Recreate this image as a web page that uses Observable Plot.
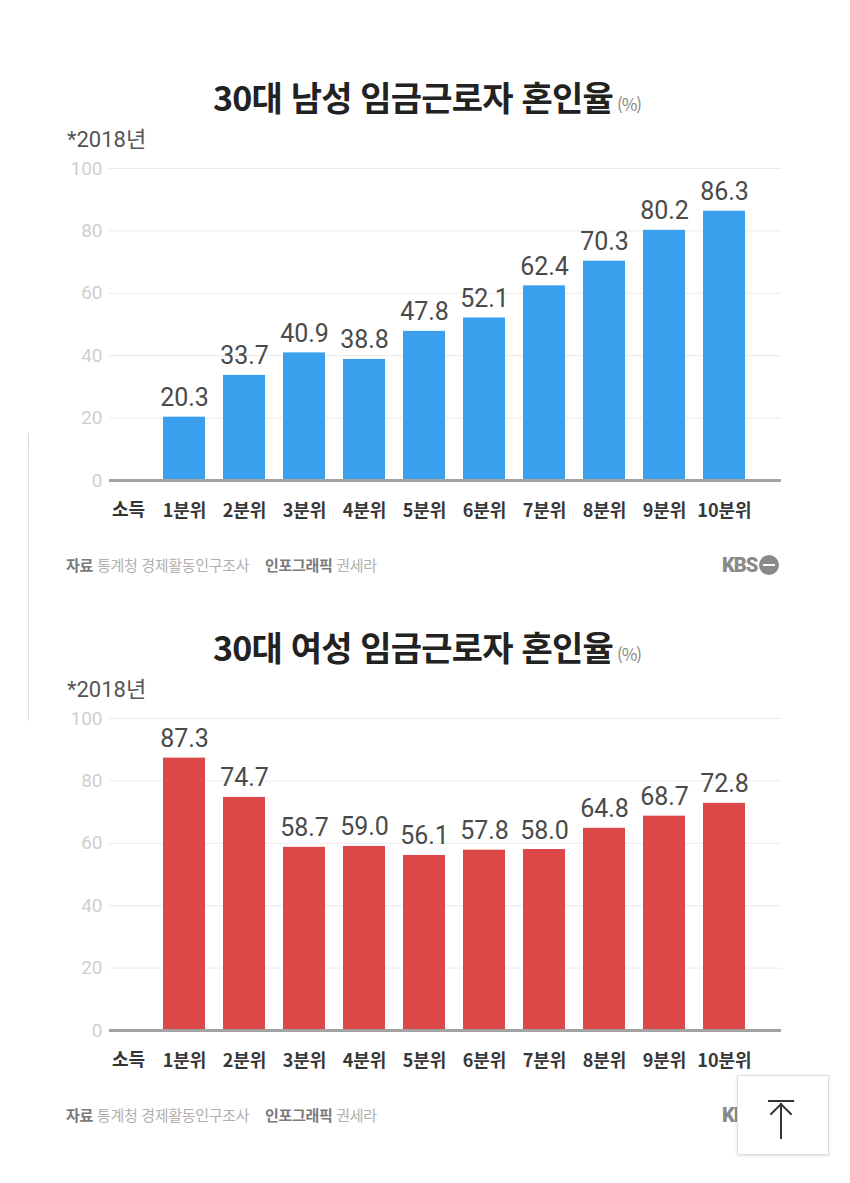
<!DOCTYPE html>
<html lang="ko">
<head>
<meta charset="utf-8">
<script src="https://cdn.jsdelivr.net/npm/d3@7"></script>
<script src="https://cdn.jsdelivr.net/npm/@observablehq/plot@0.6"></script>
<style>
  html, body { margin: 0; padding: 0; background: #fff; }
  body { width: 850px; height: 1183px; position: relative; overflow: hidden; font-family: "Noto Sans CJK KR", "Noto Sans", sans-serif; }
  .abs { position: absolute; }
  .title { left: 0; width: 850px; text-align: center; font-size: 34px; font-weight: 700; color: #222; line-height: 1; letter-spacing: -0.8px; padding-left: 4px; box-sizing: border-box; }
  .title .unit { font-size: 17px; font-weight: 400; color: #888; letter-spacing: -1px; margin-left: 4px; }
  .year { left: 67px; font-size: 22px; color: #555; line-height: 1; font-family: "Roboto", "Noto Sans CJK KR", sans-serif; }
  .year .k { font-family: "Noto Sans CJK KR", sans-serif; }
  .footer { left: 66px; font-size: 15px; color: #b0b0b0; line-height: 1; white-space: pre; letter-spacing: -0.3px; }
  .footer b { color: #7a7a7a; font-weight: 700; }
  .kbs { left: 722px; font-family: "Roboto", sans-serif; font-weight: 900; font-size: 20px; color: #8a8a8a; line-height: 1; letter-spacing: -1px; display: flex; align-items: center; }
  .kbs .dot { display: inline-block; width: 20px; height: 20px; border-radius: 50%; background: #8a8a8a; margin-left: 2px; position: relative; }
  .kbs .dot::after { content: ""; position: absolute; left: 4px; right: 4px; top: 9px; height: 2px; background: #fff; }
  .soduk { font-size: 18px; font-weight: 700; color: #333; line-height: 1; }
  .chart { left: 0; }
  .scroll { left: 28px; top: 433px; width: 1px; height: 288px; background: #e4e4e4; }
  .scroll-top { left: 28px; top: 433px; width: 1px; height: 14px; background: #d8d8d8; }
  .btn { left: 737px; top: 1075px; width: 90px; height: 78px; background: #fff; border: 1px solid #ddd; box-shadow: 0 1px 3px rgba(0,0,0,0.12); }
  .btn .bar { position: absolute; left: 30px; width: 26px; top: 24px; height: 2px; background: #333; }
  .btn .stem { position: absolute; left: 42px; top: 27px; width: 2px; height: 36px; background: #333; }
  .btn .head { position: absolute; left: 35px; top: 30px; width: 14px; height: 14px; border-left: 2px solid #333; border-top: 2px solid #333; transform: rotate(45deg); transform-origin: center; }
</style>
</head>
<body>
<script>
// ---- data ----
const categories = ["1분위", "2분위", "3분위", "4분위", "5분위", "6분위", "7분위", "8분위", "9분위", "10분위"];
const maleValues = [20.3, 33.7, 40.9, 38.8, 47.8, 52.1, 62.4, 70.3, 80.2, 86.3];
const femaleValues = [87.3, 74.7, 58.7, 59.0, 56.1, 57.8, 58.0, 64.8, 68.7, 72.8];
const yTicks = [0, 20, 40, 60, 80, 100];
const maleTitle = "30대 남성 임금근로자 혼인율";
const femaleTitle = "30대 여성 임금근로자 혼인율";
const unitLabel = "(%)";
const yearNote = "*2018년";
const xPrefix = "소득";
const maleColor = "#3a9fec";
const femaleColor = "#dc4747";

function makeChart(values, color) {
  const data = categories.map((c, i) => ({cat: c, value: values[i]}));
  return Plot.plot({
    width: 850,
    height: 400,
    marginTop: 28,
    marginBottom: 60,
    marginLeft: 109,
    marginRight: 69,
    style: {background: "transparent", fontFamily: "Roboto, 'Noto Sans CJK KR', sans-serif"},
    x: {domain: categories, paddingInner: 0.296, paddingOuter: 0.712, align: 0.605, label: null},
    y: {domain: [0, 100], label: null},
    marks: [
      Plot.gridY(yTicks, {stroke: "#ebebeb", strokeOpacity: 1, strokeWidth: 1}),
      Plot.axisY(yTicks, {tickSize: 0, tickPadding: 7, fontSize: 19, fill: "#cfcfcf", label: null, fontFamily: "Roboto"}),
      Plot.barY(data, {x: "cat", y: "value", fill: color}),
      Plot.ruleY([0], {stroke: "#a3a3a3", strokeWidth: 3}),
      Plot.text(data, {x: "cat", y: "value", text: d => d.value.toFixed(1), dy: -19, fontSize: 25, fill: "#4a4a4a", fontFamily: "Roboto"}),
      Plot.axisX({tickSize: 0, tickPadding: 24, fontSize: 18, fontWeight: 700, fill: "#383838", label: null, fontFamily: "'Noto Sans CJK KR', sans-serif", letterSpacing: "-0.5px"})
    ]
  });
}

function addEl(cls, top, html, extraStyle) {
  const d = document.createElement("div");
  d.className = "abs " + cls;
  d.style.top = top + "px";
  if (extraStyle) Object.assign(d.style, extraStyle);
  d.innerHTML = html;
  document.body.appendChild(d);
  return d;
}

function section(offset, title, values, color) {
  addEl("title", offset + 80, title + '<span class="unit">' + unitLabel + '</span>');
  addEl("year", offset + 126, yearNote.replace("년", '<span class="k">년</span>'));
  const c = makeChart(values, color);
  const wrap = addEl("chart", offset + 140, "");
  wrap.appendChild(c);
  addEl("soduk", offset + 499, xPrefix, {left: "112px"});
  addEl("footer", offset + 557, '<b>자료</b> 통계청 경제활동인구조사    <b>인포그래픽</b> 권세라');
  addEl("kbs", offset + 555, 'KBS<span class="dot"></span>');
}

section(0, maleTitle, maleValues, maleColor);
section(550, femaleTitle, femaleValues, femaleColor);

addEl("scroll", 433, "");
addEl("scroll-top", 433, "");
addEl("btn", 1075, '<div class="bar"></div><div class="stem"></div><div class="head"></div>');
</script>
</body>
</html>
